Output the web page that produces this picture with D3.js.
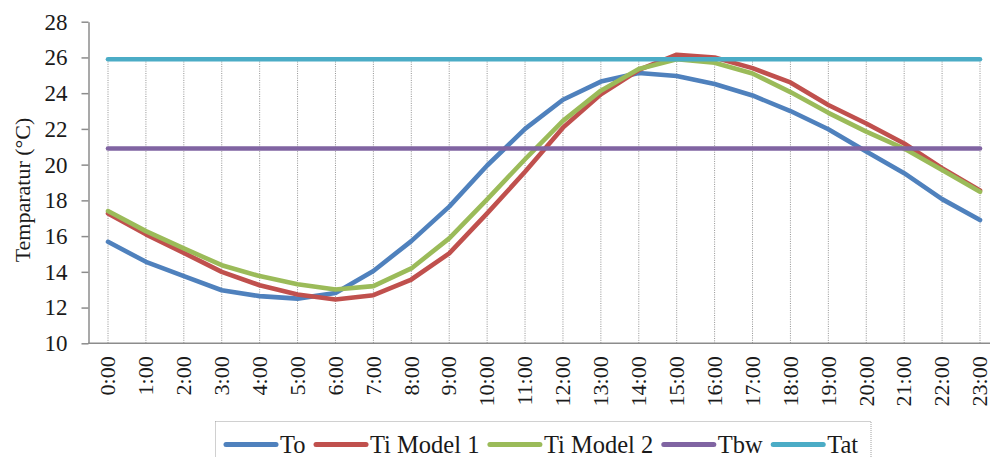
<!DOCTYPE html>
<html><head><meta charset="utf-8">
<script src="https://cdn.jsdelivr.net/npm/d3@7/dist/d3.min.js"></script>
<style>
body{margin:0;background:#fff}
svg{display:block}
svg text{font-family:"Liberation Serif","Times New Roman",serif !important;fill:#1a1a1a}
</style>
</head><body>
<svg id="c" width="990" height="457"></svg>
<script>
const hours = ["0:00","1:00","2:00","3:00","4:00","5:00","6:00","7:00","8:00","9:00","10:00","11:00",
               "12:00","13:00","14:00","15:00","16:00","17:00","18:00","19:00","20:00","21:00","22:00","23:00"];
const seriesNames = ["To","Ti Model 1","Ti Model 2","Tbw","Tat"];
const seriesColors = ["#4F81BD","#C0504D","#9BBB59","#8064A2","#4BACC6"];
const To   = [15.68,14.56,13.76,12.97,12.64,12.50,12.82,14.05,15.72,17.65,19.95,22.00,
              23.63,24.65,25.13,24.96,24.51,23.87,23.00,21.98,20.73,19.52,18.07,16.90];
const Ti1  = [17.27,16.10,15.06,14.00,13.25,12.73,12.45,12.69,13.57,15.03,17.27,19.60,
              22.07,23.94,25.30,26.15,26.00,25.40,24.60,23.34,22.30,21.18,19.80,18.55];
const Ti2  = [17.40,16.28,15.31,14.37,13.76,13.31,13.01,13.20,14.19,15.87,18.06,20.30,
              22.45,24.14,25.35,25.90,25.70,25.10,24.06,22.90,21.85,20.90,19.70,18.48];
const Tbw  = [20.9,20.9,20.9,20.9,20.9,20.9,20.9,20.9,20.9,20.9,20.9,20.9,
              20.9,20.9,20.9,20.9,20.9,20.9,20.9,20.9,20.9,20.9,20.9,20.9];
const Tat  = [25.9,25.9,25.9,25.9,25.9,25.9,25.9,25.9,25.9,25.9,25.9,25.9,
              25.9,25.9,25.9,25.9,25.9,25.9,25.9,25.9,25.9,25.9,25.9,25.9];
const yTicks = [10,12,14,16,18,20,22,24,26,28];
const yTitle = "Temparatur (°C)";

const seriesValues = [To, Ti1, Ti2, Tbw, Tat];
const FONT = '"Liberation Serif","Times New Roman",serif';

const svg = d3.select("#c");
const x = d3.scalePoint().domain(hours).range([108, 980]);
const y = d3.scaleLinear().domain([10, 28]).range([343.3, 21.7]);

// drop lines
const maxAt = hours.map((h, i) => d3.max(seriesValues, s => s[i]));
svg.append("g").selectAll("line").data(hours).join("line")
  .attr("x1", d => x(d)).attr("x2", d => x(d))
  .attr("y1", (d, i) => y(maxAt[i])).attr("y2", y(10))
  .attr("stroke", "#808080").attr("stroke-width", 1)
  .attr("stroke-dasharray", "1,1.3").attr("opacity", 0.85);

// y axis
const yAxis = svg.append("g").attr("transform", "translate(88.5,0)")
  .call(d3.axisLeft(y).tickValues(yTicks).tickSize(7).tickPadding(14).tickSizeOuter(0));
yAxis.attr("font-family", FONT);
yAxis.select(".domain").attr("stroke", "#8c8c8c").attr("stroke-width", 1.5);
yAxis.selectAll(".tick line").attr("stroke", "#8c8c8c").attr("stroke-width", 1.5);
yAxis.selectAll(".tick text").style("font-size", "23px").style("font-family", FONT).attr("fill", "#1a1a1a");

// x axis line
svg.append("line").attr("x1", 88).attr("x2", 990).attr("y1", y(10)).attr("y2", y(10))
  .attr("stroke", "#8c8c8c").attr("stroke-width", 1.5);

// x labels
svg.append("g").selectAll("text").data(hours).join("text")
  .attr("transform", d => `translate(${x(d)},${y(10) + 13}) rotate(-90)`)
  .attr("text-anchor", "end").attr("dy", "0.33em")
  .style("font-size", "22px").style("font-family", FONT)
  .text(d => d);

// y title
svg.append("text").attr("transform", "translate(22,190) rotate(-90)")
  .attr("text-anchor", "middle").attr("dy", "0.35em")
  .style("font-size", "22px").style("font-family", FONT)
  .text(yTitle);

// series lines
const line = d3.line().x((d, i) => x(hours[i])).y(d => y(d));
svg.append("g").selectAll("path").data(seriesValues).join("path")
  .attr("d", d => line(d)).attr("fill", "none")
  .attr("stroke", (d, i) => seriesColors[i]).attr("stroke-width", 4.6)
  .attr("stroke-linejoin", "round").attr("stroke-linecap", "round");

// legend
const lg = svg.append("g");
lg.append("rect").attr("x", 215.5).attr("y", 421.5).attr("width", 655.5).attr("height", 60)
  .attr("fill", "none").attr("stroke", "#a0a0a0").attr("stroke-width", 1).attr("stroke-dasharray", "1,1");
let cx = 226;
const ly = 444.5;
seriesNames.forEach((name, i) => {
  lg.append("line").attr("x1", cx).attr("x2", cx + 50).attr("y1", ly).attr("y2", ly)
    .attr("stroke", seriesColors[i]).attr("stroke-width", 5).attr("stroke-linecap", "round");
  const t = lg.append("text").attr("x", cx + 54).attr("y", ly).attr("dy", "0.33em")
    .style("font-size", "24.5px").style("font-family", FONT).text(name);
  cx = cx + 54 + t.node().getComputedTextLength() + 10.5;
});
</script>
</body></html>
